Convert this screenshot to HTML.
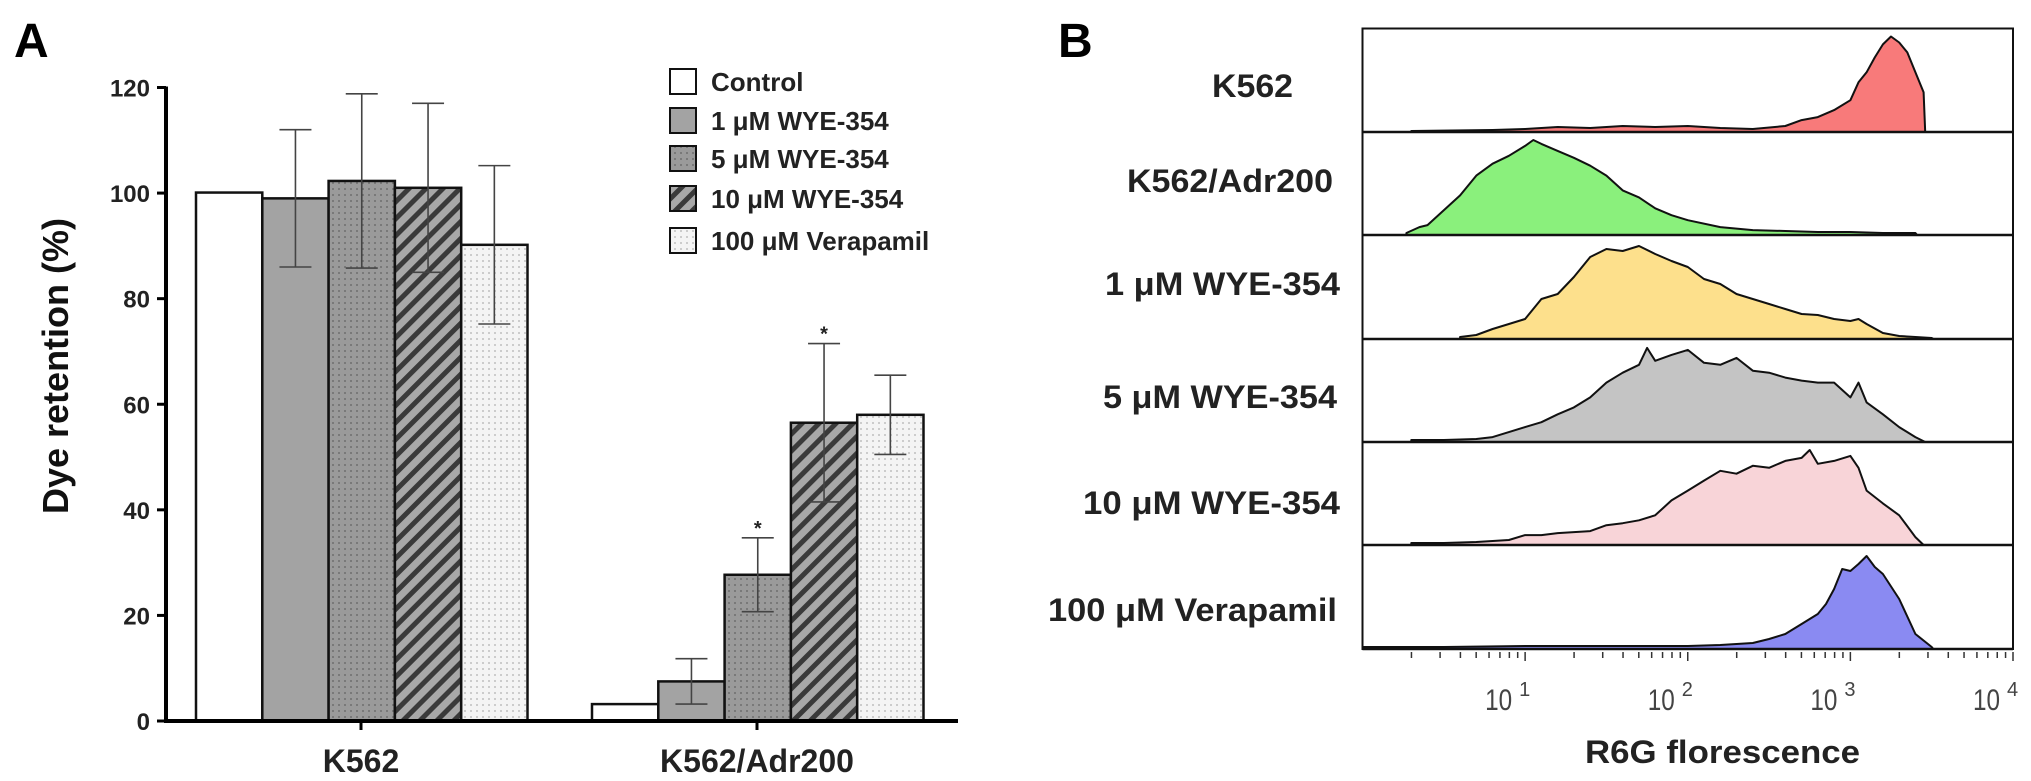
<!DOCTYPE html>
<html><head><meta charset="utf-8"><style>
html,body{margin:0;padding:0;background:#fff}
svg{display:block}
text{font-family:"Liberation Sans",Arial,sans-serif}
</style></head><body>
<svg id="fig" width="2031" height="781" viewBox="0 0 2031 781" xmlns="http://www.w3.org/2000/svg">
<defs>
<pattern id="pDots" width="6" height="6" patternUnits="userSpaceOnUse"><rect width="6" height="6" fill="#9a9a9a"/><circle cx="3" cy="3" r="1" fill="#6e6e6e"/></pattern>
<pattern id="pHatch" width="12" height="12" patternUnits="userSpaceOnUse" patternTransform="rotate(45)"><rect width="12" height="12" fill="#a8a8a8"/><rect width="5" height="12" fill="#3a3a3a"/></pattern>
<pattern id="pLight" width="6" height="6" patternUnits="userSpaceOnUse"><rect width="6" height="6" fill="#f4f4f4"/><circle cx="3" cy="3" r="0.9" fill="#b0b0b0"/></pattern>
</defs>
<text x="14" y="57" font-size="48" font-weight="bold">A</text>
<text x="1058" y="57" font-size="48" font-weight="bold">B</text>
<g id="barChart"></g>
<g id="histChart"></g>
</svg>
<script>
const NS="http://www.w3.org/2000/svg";
// ---- Panel A data ----
const groups=["K562","K562/Adr200"];
const seriesNames=["Control","1 μM WYE-354","5 μM WYE-354","10 μM WYE-354","100 μM Verapamil"];
const k562Values=[100.1,99,102.3,101,90.2];
const adrValues=[3.2,7.5,27.7,56.5,58];
const k562Errors=[0,13,16.5,16,15];
const adrErrors=[0,4.3,7,15,7.5];
const adrStars=[false,false,true,true,false];
const yTicks=[0,20,40,60,80,100,120];
// ---- Panel B data ----
const rowLabels=["K562","K562/Adr200","1 μM WYE-354","5 μM WYE-354","10 μM WYE-354","100 μM Verapamil"];
const xTickExps=[1,2,3,4];
const k562Log=[0.3,0.8,1.0,1.2,1.4,1.6,1.8,2.0,2.2,2.4,2.6,2.7,2.8,2.9,3.0,3.05,3.1,3.15,3.2,3.25,3.3,3.35,3.4,3.45,3.46];
const k562Cnt=[0.01,0.02,0.03,0.05,0.04,0.06,0.05,0.06,0.04,0.03,0.06,0.12,0.15,0.22,0.32,0.5,0.6,0.75,0.88,0.96,0.9,0.8,0.6,0.4,0];
const adrLog=[0.27,0.35,0.4,0.5,0.6,0.7,0.8,0.9,1.0,1.05,1.1,1.2,1.3,1.4,1.5,1.6,1.7,1.8,1.9,2.0,2.2,2.4,2.6,2.8,3.0,3.2,3.4,3.41];
const adrCnt=[0.02,0.08,0.1,0.25,0.4,0.6,0.72,0.8,0.9,0.96,0.92,0.85,0.78,0.7,0.6,0.45,0.38,0.27,0.2,0.15,0.08,0.05,0.04,0.03,0.03,0.02,0.02,0];
const wye1Log=[0.6,0.7,0.8,0.9,1.0,1.1,1.2,1.3,1.4,1.5,1.6,1.7,1.8,1.9,2.0,2.1,2.2,2.3,2.4,2.5,2.6,2.7,2.8,2.9,3.0,3.05,3.1,3.2,3.3,3.4,3.5,3.51];
const wye1Cnt=[0.02,0.04,0.1,0.15,0.2,0.4,0.45,0.62,0.82,0.9,0.88,0.93,0.85,0.78,0.72,0.6,0.55,0.45,0.4,0.35,0.3,0.25,0.24,0.2,0.18,0.2,0.15,0.06,0.03,0.02,0.01,0];
const wye5Log=[0.3,0.5,0.7,0.8,0.9,1.0,1.1,1.2,1.3,1.4,1.5,1.6,1.7,1.75,1.8,1.9,2.0,2.1,2.2,2.3,2.4,2.5,2.6,2.7,2.8,2.9,3.0,3.05,3.1,3.2,3.3,3.4,3.46];
const wye5Cnt=[0.02,0.02,0.03,0.05,0.1,0.15,0.2,0.28,0.35,0.45,0.6,0.7,0.78,0.95,0.82,0.88,0.93,0.8,0.78,0.85,0.72,0.7,0.65,0.62,0.6,0.6,0.45,0.6,0.4,0.28,0.15,0.05,0];
const wye10Log=[0.3,0.5,0.7,0.9,1.0,1.1,1.2,1.3,1.4,1.5,1.6,1.7,1.8,1.9,2.0,2.1,2.2,2.3,2.4,2.5,2.6,2.7,2.75,2.8,2.9,3.0,3.05,3.1,3.2,3.3,3.4,3.45];
const wye10Cnt=[0.02,0.02,0.03,0.05,0.1,0.1,0.12,0.13,0.14,0.2,0.22,0.25,0.3,0.45,0.55,0.65,0.75,0.72,0.8,0.78,0.85,0.88,0.96,0.82,0.85,0.9,0.78,0.55,0.42,0.3,0.08,0];
const verLog=[0.0,0.5,1.0,1.5,2.0,2.2,2.4,2.5,2.6,2.7,2.8,2.85,2.9,2.95,3.0,3.05,3.1,3.15,3.2,3.3,3.4,3.5,3.51];
const verCnt=[0.02,0.02,0.03,0.03,0.03,0.04,0.06,0.1,0.15,0.25,0.35,0.45,0.6,0.8,0.78,0.85,0.93,0.82,0.75,0.5,0.15,0.02,0];
const histLogs=[k562Log,adrLog,wye1Log,wye5Log,wye10Log,verLog];
const histCnts=[k562Cnt,adrCnt,wye1Cnt,wye5Cnt,wye10Cnt,verCnt];
const histColors=["#f87a7a","#8af07c","#fde08c","#c4c4c4","#f8d4d8","#8a8af2"];

function mk(tag,attrs,parent){const e=document.createElementNS(NS,tag);for(const k in attrs)e.setAttribute(k,attrs[k]);parent.appendChild(e);return e;}

// ---- Panel A ----
const A=document.getElementById('barChart');
const x0=166,y0=721,yTop=87.5,xEnd=958;
const ymax=120;
function yScale(v){return y0-(v/ymax)*(y0-yTop);}
const groupStart=[196,592];
const barW=66.3;
function xBar(g,s){return groupStart[g]+s*barW;}
const fills=["#ffffff","#a3a3a3","url(#pDots)","url(#pHatch)","url(#pLight)"];
const allVals=[k562Values,adrValues];
const allErr=[k562Errors,adrErrors];
for(let g=0;g<2;g++){
  for(let s=0;s<5;s++){
    const v=allVals[g][s];
    const r=mk('rect',{x:xBar(g,s),y:yScale(v),width:barW,height:y0-yScale(v),fill:fills[s],stroke:"#111","stroke-width":2.5},A);
    
    
    const e=allErr[g][s];
    if(e>0){
      const cx=xBar(g,s)+barW/2;
      const eg=mk('g',{stroke:"#444","stroke-width":1.6},A);
      
      
      mk('line',{x1:cx,x2:cx,y1:yScale(v+e),y2:yScale(v-e)},eg);
      mk('line',{x1:cx-16,x2:cx+16,y1:yScale(v+e),y2:yScale(v+e)},eg);
      mk('line',{x1:cx-16,x2:cx+16,y1:yScale(v-e),y2:yScale(v-e)},eg);
    }
  }
}
for(let s=0;s<5;s++){
  if(adrStars[s]){
    const cx=xBar(1,s)+barW/2;
    const t=mk('text',{x:cx,y:yScale(adrValues[s]+adrErrors[s])-3,"font-size":20,"font-weight":"bold","text-anchor":"middle",fill:"#222"},A);
    t.textContent="*";
    
    
  }
}
const ya=mk('line',{x1:x0,x2:x0,y1:yTop-1,y2:y0+2,stroke:"#000","stroke-width":4},A);


const xa=mk('line',{x1:x0-2,x2:xEnd,y1:y0,y2:y0,stroke:"#000","stroke-width":4},A);


yTicks.forEach(v=>{
  mk('line',{x1:x0-9,x2:x0,y1:yScale(v),y2:yScale(v),stroke:"#000","stroke-width":3},A);
  const t=mk('text',{x:150,y:yScale(v)+9,"font-size":24,"font-weight":"bold","text-anchor":"end",fill:"#222"},A);
  t.textContent=v;
  
  
});
const gCenters=[361,757];
groups.forEach((g,i)=>{
  mk('line',{x1:gCenters[i],x2:gCenters[i],y1:y0,y2:y0+9,stroke:"#000","stroke-width":3},A);
  const t=mk('text',{x:gCenters[i],y:772,"font-size":32,"font-weight":"bold","text-anchor":"middle",fill:"#222"},A);
  t.textContent=g;
  
  
});
const yt=mk('text',{x:0,y:0,"font-size":36,"font-weight":"bold","text-anchor":"middle",fill:"#111",transform:"translate(68,366) rotate(-90)"},A);
yt.textContent="Dye retention (%)";


const legY=[81,120,158,198,240];
seriesNames.forEach((n,i)=>{
  const lg=mk('g',{},A);
  
  
  mk('rect',{x:670,y:legY[i]-12,width:26,height:25,fill:fills[i],stroke:"#111","stroke-width":2},lg);
  const t=mk('text',{x:711,y:legY[i]+10,"font-size":26,"font-weight":"bold",fill:"#222"},lg);
  t.textContent=n;
});

// ---- Panel B ----
const B=document.getElementById('histChart');
const bx0=1362.5,bx1=2013,decade=(bx1-bx0)/4;
const rowTops=[28.5,132,235,339,442,545];
const rowBottom=649;
function xLog(l){return bx0+l*decade;}
const fr=mk('rect',{x:bx0,y:rowTops[0],width:bx1-bx0,height:rowBottom-rowTops[0],fill:"#fff",stroke:"#111","stroke-width":2},B);


for(let r=0;r<6;r++){
  const top=rowTops[r],base=(r<5?rowTops[r+1]:rowBottom);
  const h=base-top-4;
  const L=histLogs[r],C=histCnts[r];
  let d="M"+xLog(L[0])+","+base;
  for(let i=0;i<L.length;i++)d+=" L"+xLog(L[i]).toFixed(1)+","+(base-C[i]*h).toFixed(1);
  d+=" L"+xLog(L[L.length-1])+","+base+" Z";
  const p=mk('path',{d:d,fill:histColors[r],stroke:"#111","stroke-width":2,"stroke-linejoin":"round"},B);
  
  
  const sep=mk('line',{x1:bx0,x2:bx1,y1:base,y2:base,stroke:"#111","stroke-width":2.5},B);
  
  
}
const labelX=[1212,1127,1105,1103,1083,1048];
const labelW=[81,206,235,234,257,289];
const labelY=[97,192,295,408,514,621];
rowLabels.forEach((n,i)=>{
  const t=mk('text',{x:labelX[i],y:labelY[i],"font-size":32,"font-weight":"bold",fill:"#222",textLength:labelW[i],lengthAdjust:"spacingAndGlyphs"},B);
  t.textContent=n;
  
  
});
for(let dd=0;dd<4;dd++){
  for(let m=2;m<=10;m++){
    const x=xLog(dd+Math.log10(m));
    mk('line',{x1:x,x2:x,y1:rowBottom+3,y2:rowBottom+(m===10?12:9),stroke:"#333","stroke-width":1.5},B);
  }
}
xTickExps.forEach(e=>{
  const g=mk('g',{},B);
  
  
  const t=mk('text',{x:xLog(e)-40,y:710,"font-size":30,fill:"#444",textLength:27,lengthAdjust:"spacingAndGlyphs"},g);
  t.textContent="10";
  const s=mk('text',{x:xLog(e)-6,y:696,"font-size":20,fill:"#444"},g);
  s.textContent=e;
});
const xt=mk('text',{x:1585,y:763,"font-size":32,"font-weight":"bold",fill:"#222",textLength:275,lengthAdjust:"spacingAndGlyphs"},B);
xt.textContent="R6G florescence";


</script>
</body></html>
